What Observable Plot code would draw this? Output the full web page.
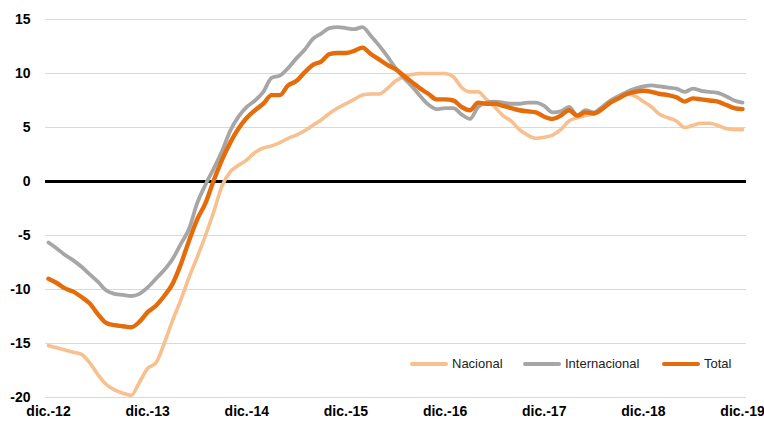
<!DOCTYPE html>
<html>
<head>
<meta charset="utf-8">
<script src="https://cdn.jsdelivr.net/npm/d3@7"></script>
<script src="https://cdn.jsdelivr.net/npm/@observablehq/plot@0.6"></script>
<style>
  body { margin: 0; background: #fff; }
  #wrap { position: relative; width: 764px; height: 421px; font-family: "Liberation Sans", Arial, Helvetica, sans-serif; }
  .item { position: absolute; display: flex; align-items: center; font-size: 13px; color: #222; white-space: nowrap; }
  .sw { width: 38px; height: 4px; border-radius: 2px; margin-right: 4px; }
</style>
</head>
<body>
<div id="wrap"></div>
<script>
// x: month index, 0 = dic.-12 ... 84 = dic.-19
const tickMonths = [0, 12, 24, 36, 48, 60, 72, 84];
const tickLabels = ["dic.-12", "dic.-13", "dic.-14", "dic.-15", "dic.-16", "dic.-17", "dic.-18", "dic.-19"];
const yTicks = [-20, -15, -10, -5, 0, 5, 10, 15];

const seriesNames = ["Nacional", "Internacional", "Total"];
const seriesColors = ["#F8BF8F", "#A6A6A6", "#E46C0A"];

const nacional = [
  -15.2, -15.4, -15.6, -15.8, -16.0, -16.8, -17.9, -18.8, -19.3, -19.6, -19.8, -18.6,
  -17.3, -16.8, -15.0, -12.9, -11.0, -8.9, -7.0, -5.0, -2.8, -0.4, 0.9, 1.5,
  2.0, 2.7, 3.1, 3.3, 3.6, 4.0, 4.3, 4.7, 5.2, 5.7, 6.3, 6.8,
  7.2, 7.6, 8.0, 8.1, 8.1, 8.6, 9.3, 9.7, 9.9, 10.0, 10.0, 10.0,
  10.0, 9.7, 8.7, 8.3, 8.3, 7.6, 6.9, 6.1, 5.6, 4.8, 4.3, 4.0,
  4.1, 4.3, 4.8, 5.6, 5.9, 6.1, 6.3, 6.8, 7.3, 7.7, 8.1, 7.9,
  7.4, 6.9, 6.2, 5.9, 5.6, 5.0, 5.2, 5.4, 5.4, 5.2, 4.9, 4.8,
  4.8
];
const internacional = [
  -5.65, -6.2, -6.8, -7.3, -7.9, -8.6, -9.3, -10.1, -10.4, -10.5, -10.6, -10.4,
  -9.8, -9.0, -8.2, -7.2, -5.8, -4.4, -2.0, -0.3, 1.2, 2.8, 4.7, 6.0,
  6.9, 7.5, 8.3, 9.6, 9.8, 10.5, 11.4, 12.2, 13.2, 13.7, 14.2, 14.3,
  14.2, 14.1, 14.3, 13.5, 12.6, 11.6, 10.5, 9.6, 8.8, 7.9, 7.1, 6.7,
  6.8, 6.8, 6.2, 5.8, 6.9, 7.3, 7.4, 7.3, 7.2, 7.2, 7.3, 7.3,
  7.0, 6.4, 6.5, 6.9, 6.1, 6.6, 6.4, 6.9, 7.5, 7.9, 8.3, 8.6,
  8.8, 8.9, 8.8, 8.7, 8.6, 8.3, 8.6, 8.4, 8.3, 8.2, 7.9, 7.5,
  7.3
];
const total = [
  -9.0, -9.4, -9.9, -10.2, -10.7, -11.3, -12.3, -13.1, -13.3, -13.4, -13.5, -13.0,
  -12.1, -11.5, -10.6, -9.5, -7.7, -5.5, -3.5, -2.0, 0.1, 2.0, 3.6, 4.9,
  5.9, 6.6, 7.2, 8.0, 8.0, 8.9, 9.3, 10.1, 10.8, 11.1, 11.8, 11.9,
  11.9, 12.1, 12.4, 11.8, 11.3, 10.8, 10.4, 9.8, 9.2, 8.6, 8.1, 7.6,
  7.6, 7.5, 6.9, 6.6, 7.3, 7.2, 7.2, 7.0, 6.8, 6.6, 6.5, 6.4,
  6.0, 5.8, 6.1, 6.6, 6.1, 6.4, 6.3, 6.7, 7.3, 7.7, 8.1, 8.3,
  8.4, 8.3, 8.1, 8.0, 7.8, 7.4, 7.7, 7.6, 7.5, 7.4, 7.1, 6.8,
  6.7
];

const seriesValues = [nacional, internacional, total];
const seriesWidths = [3.6, 3.8, 4.4];

const lineMarks = seriesValues.map((vals, s) =>
  Plot.line(vals.map((v, i) => ({m: i, v})), {
    x: "m", y: "v",
    stroke: seriesColors[s],
    strokeWidth: seriesWidths[s],
    strokeLinejoin: "round",
    strokeLinecap: "round",
    curve: "monotone-x"
  })
);

const chart = Plot.plot({
  width: 764,
  height: 421,
  marginLeft: 45,
  marginRight: 18,
  marginTop: 19,
  marginBottom: 24,
  style: {fontFamily: "'Liberation Sans', Arial, Helvetica, sans-serif", background: "#fff", color: "#000"},
  x: {domain: [-0.363, 84.48], label: null},
  y: {domain: [-20, 15], label: null},
  marks: [
    Plot.gridY(yTicks.filter(d => d !== 0), {stroke: "#D9D9D9", strokeOpacity: 1, strokeWidth: 1}),
    Plot.axisY({ticks: yTicks, tickSize: 0, tickPadding: 15, fontWeight: "bold", fontSize: 14, label: null, tickFormat: d => String(d)}),
    Plot.axisX({ticks: tickMonths, tickSize: 0, tickPadding: 9, fontWeight: "bold", fontSize: 14, label: null,
      tickFormat: d => tickLabels[tickMonths.indexOf(d)]}),
    Plot.ruleY([0], {stroke: "#000", strokeWidth: 3}),
    ...lineMarks
  ]
});

const wrap = document.getElementById("wrap");
wrap.appendChild(chart);

// legend inside the plot area
const legendLeft = [410, 523, 662];
seriesNames.forEach((name, s) => {
  const item = document.createElement("div");
  item.className = "item";
  item.style.left = legendLeft[s] + "px";
  item.style.top = "356px";
  const sw = document.createElement("span");
  sw.className = "sw";
  sw.style.background = seriesColors[s];
  const tx = document.createElement("span");
  tx.textContent = name;
  item.appendChild(sw);
  item.appendChild(tx);
  wrap.appendChild(item);
});
</script>
</body>
</html>
